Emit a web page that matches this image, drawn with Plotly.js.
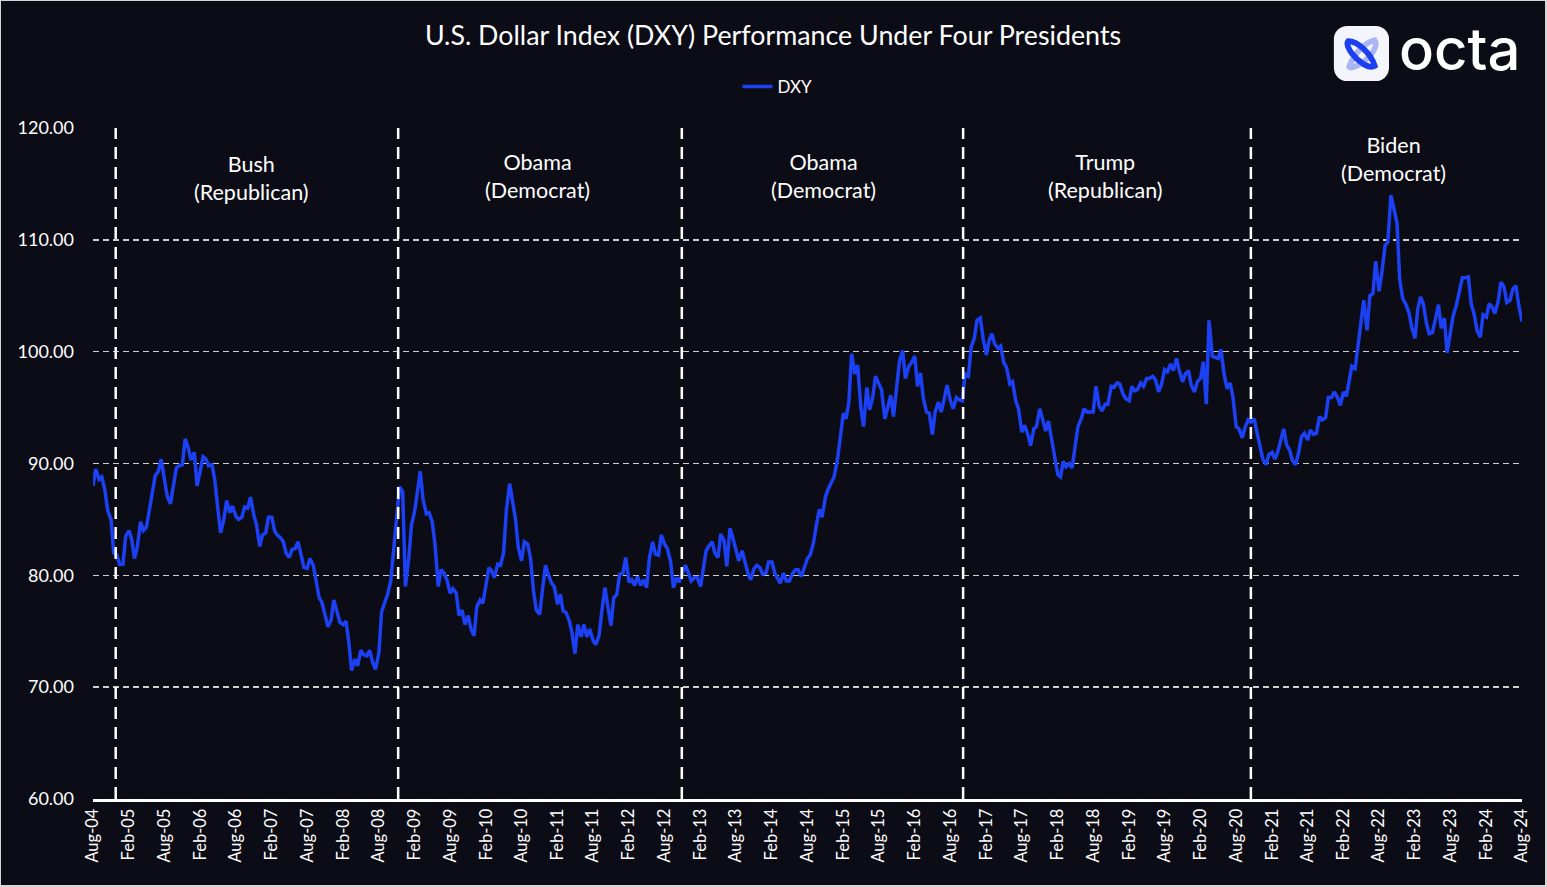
<!DOCTYPE html>
<html>
<head>
<meta charset="utf-8">
<script src="https://cdn.plot.ly/plotly-3.0.1.min.js"></script>
<style>
  html, body { margin: 0; padding: 0; background: #d6d6d6; }
  #wrap { position: absolute; left: 1px; top: 1px; width: 1544px; height: 884px; background: #0c0c16; }
  #chart { width: 1544px; height: 884px; }
</style>
</head>
<body>
<div id="wrap"><div id="chart"></div></div>
<script>
// ---- DATA (semi-monthly readings: 1st and 15th of each month) ----
const seriesName = "DXY";
const chartTitle = "U.S. Dollar Index (DXY) Performance Under Four Presidents";

const dxy2004 = [88.0, 89.5, 88.6, 88.8, 87.6, 85.8, 85.0, 82.0, 81.8, 81.0]; // Aug-Dec
const dxy2005 = [81.0, 83.5, 84.0, 83.2, 81.5, 82.5, 84.8, 84.0, 84.3, 85.6, 87.4, 88.9,
                 89.3, 90.4, 88.6, 87.1, 86.4, 88.0, 89.6, 89.8, 89.9, 92.2, 91.4, 90.3];
const dxy2006 = [91.0, 88.0, 89.3, 90.6, 90.4, 89.8, 89.9, 88.6, 86.0, 83.8, 85.0, 86.7,
                 85.6, 86.2, 85.3, 85.0, 85.2, 86.1, 86.0, 87.0, 85.4, 84.5, 82.6, 83.6];
const dxy2007 = [83.8, 85.2, 85.2, 84.0, 83.6, 83.4, 83.0, 82.0, 81.6, 82.3, 82.4, 83.0,
                 81.8, 80.7, 80.6, 81.5, 80.9, 79.4, 78.0, 77.6, 76.3, 75.4, 76.0, 77.8];
const dxy2008 = [76.7, 75.8, 75.6, 75.9, 74.0, 71.5, 72.5, 71.9, 73.3, 72.9, 72.8, 73.3,
                 72.2, 71.6, 73.0, 76.7, 77.6, 78.3, 79.5, 81.9, 85.5, 87.9, 87.5, 79.0];
const dxy2009 = [81.5, 84.5, 85.8, 87.8, 89.3, 86.8, 85.5, 85.6, 84.8, 82.8, 79.0, 80.5,
                 80.2, 79.6, 78.4, 78.8, 78.4, 76.4, 76.9, 75.6, 76.4, 75.2, 74.6, 77.2];
const dxy2010 = [77.8, 77.5, 79.5, 80.7, 80.4, 79.8, 81.0, 80.9, 82.0, 85.8, 88.2, 86.5,
                 85.0, 82.5, 81.3, 83.0, 82.8, 81.6, 78.6, 76.9, 76.5, 78.6, 80.9, 80.1];
const dxy2011 = [79.3, 79.0, 77.4, 78.3, 76.8, 76.7, 76.0, 74.9, 73.0, 75.6, 74.5, 75.6,
                 74.5, 75.2, 74.2, 73.8, 74.6, 76.8, 78.9, 77.3, 75.5, 78.0, 78.3, 80.1];
const dxy2012 = [80.2, 81.6, 79.4, 79.6, 79.1, 79.9, 79.1, 79.6, 78.9, 81.5, 83.0, 81.9,
                 81.8, 83.6, 82.8, 82.4, 81.2, 78.9, 79.8, 79.4, 80.2, 80.9, 80.2, 79.5];
const dxy2013 = [79.8, 79.8, 79.0, 80.6, 82.2, 82.6, 83.0, 82.0, 81.6, 83.7, 83.1, 80.8,
                 84.2, 83.4, 82.1, 81.3, 82.2, 81.1, 80.2, 79.6, 80.6, 80.9, 80.7, 80.1];
const dxy2014 = [80.2, 81.2, 81.2, 80.2, 79.7, 79.3, 80.2, 79.5, 79.5, 80.1, 80.5, 80.5,
                 79.9, 80.6, 81.5, 81.8, 82.9, 84.4, 85.9, 85.2, 87.0, 87.7, 88.3, 88.8];
const dxy2015 = [90.3, 92.5, 94.5, 94.0, 95.5, 99.8, 98.0, 98.8, 95.0, 93.3, 96.8, 94.8,
                 95.9, 97.8, 97.2, 96.6, 94.0, 95.0, 96.1, 94.2, 96.9, 99.2, 100.1, 97.6];
const dxy2016 = [98.7, 99.0, 99.6, 96.9, 98.1, 95.9, 94.6, 94.5, 92.6, 94.6, 95.5, 94.6,
                 95.8, 97.0, 95.6, 94.9, 95.9, 95.7, 95.6, 98.0, 97.8, 100.4, 101.2, 102.8];
const dxy2017 = [103.0, 101.2, 99.7, 101.0, 101.6, 100.7, 100.3, 100.5, 99.0, 98.6, 97.1, 97.3,
                 95.6, 94.9, 92.8, 93.4, 92.6, 91.6, 93.1, 93.3, 94.9, 93.8, 92.9, 93.8];
const dxy2018 = [92.2, 90.6, 89.0, 88.8, 90.2, 89.7, 90.0, 89.6, 91.9, 93.3, 94.0, 94.9,
                 94.6, 94.6, 94.6, 96.9, 95.1, 94.7, 95.3, 95.3, 96.9, 96.8, 97.2, 97.1];
const dxy2019 = [96.2, 95.8, 95.6, 96.9, 96.5, 96.6, 97.2, 96.9, 97.6, 97.6, 97.8, 97.5,
                 96.4, 97.0, 98.4, 98.2, 98.9, 98.3, 99.4, 98.3, 97.3, 98.0, 98.3, 97.0];
const dxy2020 = [96.4, 97.3, 97.6, 99.1, 95.3, 102.8, 99.6, 99.5, 99.4, 100.2, 97.9, 96.7,
                 97.2, 96.0, 93.3, 93.1, 92.3, 93.2, 93.9, 93.7, 94.0, 92.8, 91.5, 90.4];
const dxy2021 = [89.9, 90.8, 91.0, 90.4, 91.0, 91.9, 93.1, 91.7, 91.2, 90.3, 89.9, 90.9,
                 92.4, 92.7, 92.1, 93.0, 92.6, 92.7, 94.2, 93.9, 94.1, 95.9, 95.9, 96.4];
const dxy2022 = [95.9, 95.2, 96.4, 96.0, 97.5, 98.7, 98.5, 100.5, 103.2, 104.6, 101.9, 105.0,
                 105.2, 108.1, 105.4, 107.0, 109.5, 109.8, 114.0, 113.0, 111.5, 106.4, 104.7, 104.3];
const dxy2023 = [103.5, 102.2, 101.2, 103.8, 104.9, 104.3, 102.5, 101.6, 101.7, 102.8, 104.2, 102.1,
                 103.0, 99.9, 101.9, 103.2, 104.2, 105.3, 106.6, 106.6, 106.7, 104.3, 103.3, 101.9];
const dxy2024 = [101.3, 103.3, 103.1, 104.3, 104.0, 103.4, 104.5, 106.2, 105.8, 104.4, 104.6, 105.6,
                 105.9, 104.2, 102.7]; // Jan - Aug 1

const yearlySeries = [
  [2004, 8, dxy2004], [2005, 1, dxy2005], [2006, 1, dxy2006], [2007, 1, dxy2007],
  [2008, 1, dxy2008], [2009, 1, dxy2009], [2010, 1, dxy2010], [2011, 1, dxy2011],
  [2012, 1, dxy2012], [2013, 1, dxy2013], [2014, 1, dxy2014], [2015, 1, dxy2015],
  [2016, 1, dxy2016], [2017, 1, dxy2017], [2018, 1, dxy2018], [2019, 1, dxy2019],
  [2020, 1, dxy2020], [2021, 1, dxy2021], [2022, 1, dxy2022], [2023, 1, dxy2023],
  [2024, 1, dxy2024]
];

const electionDates = ["2004-11-25", "2008-11-08", "2012-10-28", "2016-10-05", "2020-10-15"];
const presidentLabels = ["Bush<br>(Republican)", "Obama<br>(Democrat)", "Obama<br>(Democrat)",
                         "Trump<br>(Republican)", "Biden<br>(Democrat)"];
const labelDates = ["2006-10-20", "2010-10-20", "2014-10-20", "2018-10-05", "2022-10-16"];
const labelValues = [115.5, 115.7, 115.7, 115.7, 117.2];

// ---- build x/y from the arrays ----
const pad = n => (n < 10 ? "0" + n : "" + n);
const xDates = [], yVals = [];
yearlySeries.forEach(([yr, m0, vals]) => {
  vals.forEach((v, i) => {
    const m = m0 + Math.floor(i / 2);
    const d = i % 2 === 0 ? 1 : 15;
    xDates.push(yr + "-" + pad(m) + "-" + pad(d));
    yVals.push(v);
  });
});

const FONT = "Lato, 'Open Sans', sans-serif";

const trace = {
  type: "scatter", mode: "lines", name: seriesName,
  x: xDates, y: yVals,
  line: { color: "#1c41f4", width: 3.5 }
};

const shapes = electionDates.map(d => ({
  type: "line", xref: "x", yref: "paper", x0: d, x1: d, y0: 0, y1: 1,
  line: { color: "#ffffff", width: 2.5, dash: "12px,8px" }, layer: "above"
}));

const annotations = presidentLabels.map((t, i) => ({
  x: labelDates[i], y: labelValues[i], xref: "x", yref: "y",
  text: t, showarrow: false, align: "center",
  font: { family: FONT, size: 21.5, color: "#ffffff" }
}));
annotations.push({
  xref: "paper", yref: "paper", x: 0.9566, y: 1.117, xanchor: "center", yanchor: "middle",
  text: "octa", showarrow: false,
  font: { family: "Inter, Lato, sans-serif", size: 58, color: "#ffffff", weight: 500 }
});

const logoSvg =
  "<svg xmlns='http://www.w3.org/2000/svg' width='60' height='60' viewBox='0 0 60 60'>" +
  "<rect x='1' y='1' width='58' height='58' rx='14' ry='14' fill='#f4f5fb'/>" +
  "<path d='M17 44 C 22 30, 34 18, 44 16 C 48 22, 40 34, 30 40 C 24 44, 18 46, 17 44 Z' fill='none' stroke='#aab5f3' stroke-width='6' stroke-linecap='round'/>" +
  "<path d='M16 17 C 26 17, 40 30, 44 43 C 38 47, 26 38, 20 30 C 16 25, 14 19, 16 17 Z' fill='none' stroke='#1d3ff2' stroke-width='6' stroke-linecap='round'/>" +
  "</svg>";

const layout = {
  width: 1544, height: 884,
  paper_bgcolor: "#0c0c16", plot_bgcolor: "#0c0c16",
  margin: { l: 92, r: 23, t: 127, b: 86 },
  font: { family: FONT, color: "#ffffff" },
  title: {
    text: chartTitle, x: 0.5, xanchor: "center", y: 0.9604, yanchor: "middle",
    font: { family: FONT, size: 26.8, color: "#ffffff" }
  },
  showlegend: true,
  legend: {
    orientation: "h", x: 0.479, xanchor: "center", y: 1.061, yanchor: "middle",
    font: { family: FONT, size: 17, color: "#ffffff" }, bgcolor: "rgba(0,0,0,0)"
  },
  xaxis: {
    type: "date", range: ["2004-08-01", "2024-08-01"],
    tick0: "2004-08-01", dtick: "M6", tickformat: "%b-%y", tickangle: -90,
    showgrid: false, zeroline: false,
    showline: true, linecolor: "#ffffff", linewidth: 3,
    ticks: "", tickfont: { family: FONT, size: 16.5, color: "#ffffff" }
  },
  yaxis: {
    range: [60, 120], dtick: 10, tickformat: ".2f",
    showgrid: true, gridcolor: "#cfcfcf", gridwidth: 1.5, griddash: "6px,4px",
    zeroline: false, showline: false, ticks: "",
    ticklabelstandoff: 18,
    tickfont: { family: FONT, size: 18, color: "#ffffff" }
  },
  shapes: shapes,
  annotations: annotations,
  images: [{
    source: "data:image/svg+xml;charset=utf-8," + encodeURIComponent(logoSvg),
    xref: "paper", yref: "paper", x: 0.8677, y: 1.1535, sizex: 0.0399, sizey: 0.085,
    xanchor: "left", yanchor: "top", sizing: "stretch", layer: "above"
  }]
};

Plotly.newPlot("chart", [trace], layout, { staticPlot: true, displayModeBar: false });
</script>
</body>
</html>
